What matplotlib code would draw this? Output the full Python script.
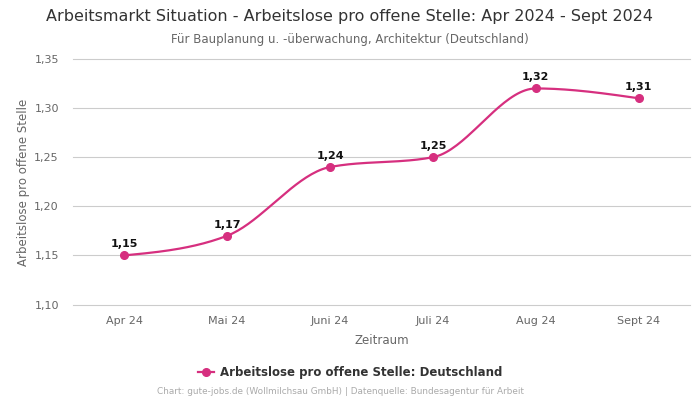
import numpy as np
import matplotlib.pyplot as plt
from matplotlib.lines import Line2D

# data
months = ['Apr 24', 'Mai 24', 'Juni 24', 'Juli 24', 'Aug 24', 'Sept 24']
values = [1.15, 1.17, 1.24, 1.25, 1.32, 1.31]
y_ticks = [1.10, 1.15, 1.20, 1.25, 1.30, 1.35]

color = '#d62f7f'


def monotone_curve(x, y, n=40):
    """Monotone cubic (d3 curveMonotoneX style) for a smooth drawn line"""
    x = np.asarray(x, float)
    y = np.asarray(y, float)
    h = np.diff(x)
    s = np.diff(y) / h
    t = np.zeros(len(x))
    for i in range(1, len(x) - 1):
        p = (s[i - 1] * h[i] + s[i] * h[i - 1]) / (h[i - 1] + h[i])
        t[i] = (np.sign(s[i - 1]) + np.sign(s[i])) * min(abs(s[i - 1]), abs(s[i]), 0.5 * abs(p))
    t[0] = (3 * s[0] - t[1]) / 2
    t[-1] = (3 * s[-1] - t[-2]) / 2
    xs, ys = [], []
    for i in range(len(x) - 1):
        u = np.linspace(0, 1, n)
        h00 = 2 * u**3 - 3 * u**2 + 1
        h10 = u**3 - 2 * u**2 + u
        h01 = -2 * u**3 + 3 * u**2
        h11 = u**3 - u**2
        xs.append(x[i] + u * h[i])
        ys.append(h00 * y[i] + h10 * h[i] * t[i] + h01 * y[i + 1] + h11 * h[i] * t[i + 1])
    return np.concatenate(xs), np.concatenate(ys)


fig = plt.figure(figsize=(7, 4), dpi=100)
ax = fig.add_axes([0.104, 0.2375, 0.882, 0.615])

xpos = np.arange(len(months))
cx, cy = monotone_curve(xpos, values)
ax.plot(cx, cy, color=color, linewidth=1.6, zorder=3)
ax.plot(xpos, values, 'o', color=color, markersize=5.5, zorder=4)

for xi, v in zip(xpos, values):
    ax.annotate(f'{v:.2f}'.replace('.', ','), (xi, v), xytext=(0, 4.5),
                textcoords='offset points', ha='center', va='bottom',
                fontsize=8, fontweight='bold', color='#111111')

ax.set_xlim(-0.5, 5.5)
ax.set_ylim(1.0995, 1.35)
ax.set_xticks(xpos)
ax.set_xticklabels(months)
ax.set_yticks(y_ticks)
ax.set_yticklabels([f'{t:.2f}'.replace('.', ',') for t in y_ticks])
ax.tick_params(axis='both', length=0, labelsize=8, labelcolor='#666666', pad=8)
ax.tick_params(axis='y', pad=10)
ax.grid(axis='y', color='#cccccc', linewidth=0.8)
for gl in ax.get_ygridlines():
    gl.set_clip_on(False)
ax.set_axisbelow(True)
for sp in ax.spines.values():
    sp.set_visible(False)

ax.set_xlabel('Zeitraum', fontsize=8.5, color='#666666', labelpad=6)
ax.set_ylabel('Arbeitslose pro offene Stelle', fontsize=8.5, color='#666666', labelpad=3)

fig.text(0.5, 0.958, 'Arbeitsmarkt Situation - Arbeitslose pro offene Stelle: Apr 2024 - Sept 2024',
         ha='center', va='center', fontsize=11.5, color='#333333')
fig.text(0.5, 0.902, 'Für Bauplanung u. -überwachung, Architektur (Deutschland)',
         ha='center', va='center', fontsize=8.5, color='#666666')

handle = Line2D([], [], color=color, marker='o', markersize=5.5, linewidth=1.6)
fig.legend([handle], ['Arbeitslose pro offene Stelle: Deutschland'], loc='center',
           bbox_to_anchor=(0.5, 0.068), frameon=False, handlelength=1.4,
           handletextpad=0.5, prop={'size': 8.5, 'weight': 'bold'}, labelcolor='#333333')

fig.text(0.486, 0.02, 'Chart: gute-jobs.de (Wollmilchsau GmbH) | Datenquelle: Bundesagentur für Arbeit',
         ha='center', va='center', fontsize=6.4, color='#aaaaaa')

fig.savefig('out.png', dpi=100)
